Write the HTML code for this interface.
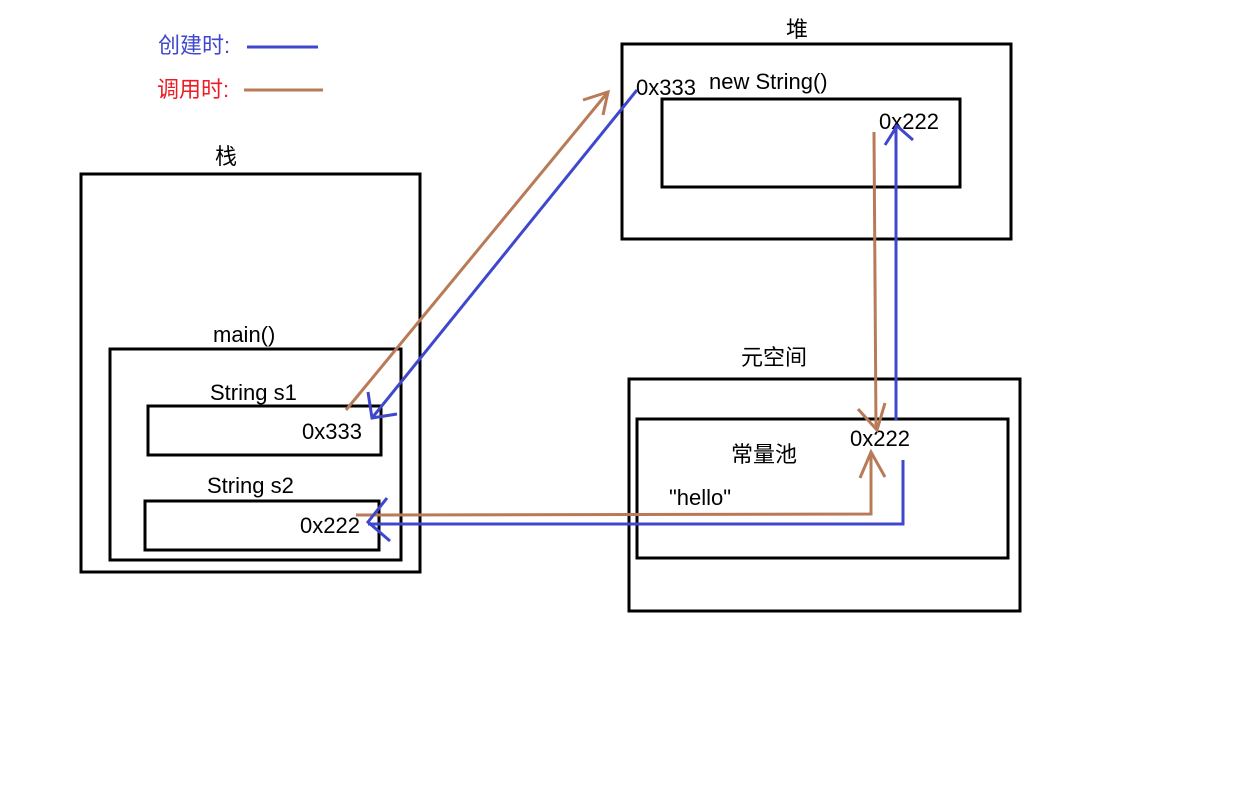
<!DOCTYPE html>
<html><head><meta charset="utf-8"><style>
body{margin:0;background:#fff;width:1247px;height:796px;overflow:hidden}
svg text{font-family:"Liberation Sans","Noto Sans CJK SC",sans-serif;font-size:22px;fill:#000}
</style></head><body>
<svg width="1247" height="796" xmlns="http://www.w3.org/2000/svg">
<g fill="none" stroke="#000" stroke-width="3">
<rect x="81" y="174" width="339" height="398"/>
<rect x="110" y="349" width="291" height="211"/>
<rect x="148" y="406" width="233" height="49"/>
<rect x="145" y="501" width="234" height="49"/>
<rect x="622" y="44" width="389" height="195"/>
<rect x="662" y="99" width="298" height="88"/>
<rect x="629" y="379" width="391" height="232"/>
<rect x="637" y="419" width="371" height="139"/>
</g>
<text x="158" y="53" style="fill:#3f48cc">创建时:</text>
<line x1="247" y1="47" x2="318" y2="47" stroke="#3f48cc" stroke-width="3"/>
<text x="157" y="97" style="fill:#ed1c24">调用时:</text>
<line x1="244" y1="90" x2="323" y2="90" stroke="#b97a57" stroke-width="3"/>
<text x="215" y="164">栈</text>
<text x="213" y="342">main()</text>
<text x="210" y="400">String s1</text>
<text x="302" y="439">0x333</text>
<text x="207" y="493">String s2</text>
<text x="300" y="533">0x222</text>
<text x="786" y="37">堆</text>
<text x="636" y="95">0x333</text>
<text x="709" y="89">new String()</text>
<text x="879" y="129">0x222</text>
<text x="741" y="365">元空间</text>
<text x="731" y="462">常量池</text>
<text x="850" y="446">0x222</text>
<text x="669" y="505">"hello"</text>
<g fill="none" stroke="#b97a57" stroke-width="3">
<polyline points="346,410 608,92"/>
<polyline points="583,100 608,92 603,115"/>
<polyline points="874,132 876,428"/>
<polyline points="858,409 877,430 885,403"/>
<polyline points="356,515 871,514 871,452"/>
<polyline points="860,478 871,452 885,477"/>
</g>
<g fill="none" stroke="#3f48cc" stroke-width="3">
<polyline points="637,90 372,418"/>
<polyline points="368,392 372,418 397,414"/>
<polyline points="896,420 896,125"/>
<polyline points="885,145 897,126 913,140"/>
<polyline points="903,460 903,524 368,524"/>
<polyline points="387,498 368,522 390,541"/>
</g>
</svg>
</body></html>
